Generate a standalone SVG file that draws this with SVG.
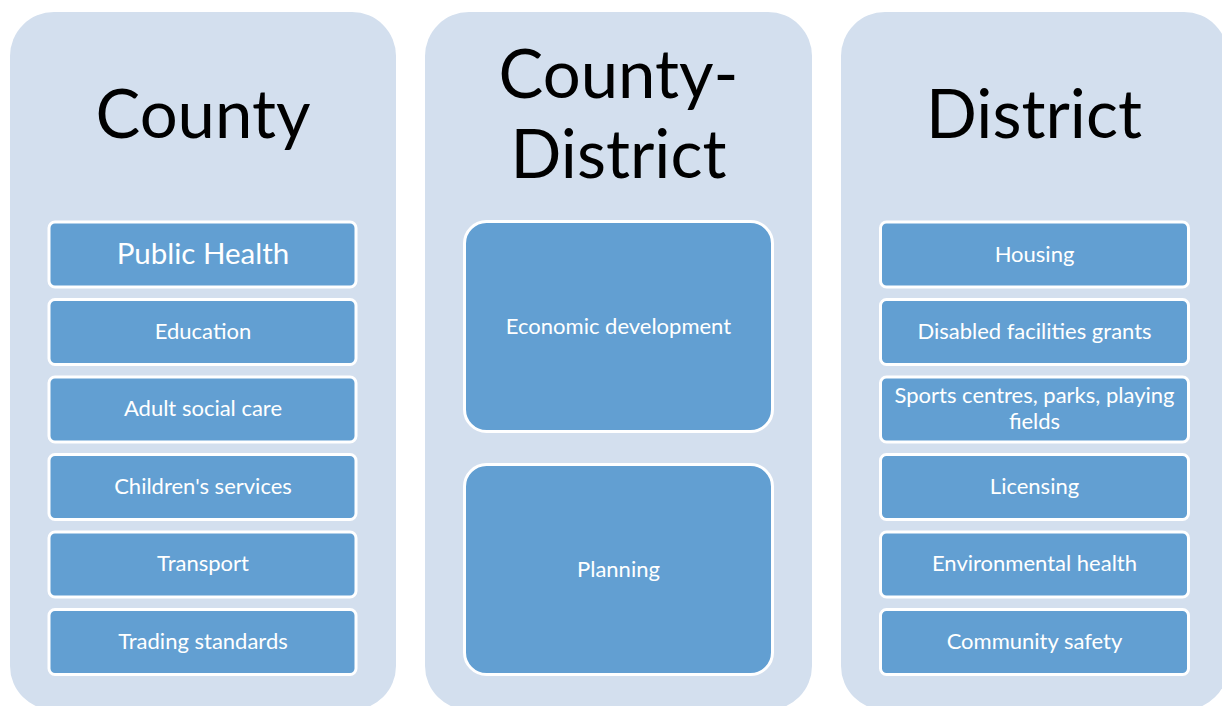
<svg xmlns="http://www.w3.org/2000/svg" width="1222" height="706" viewBox="0 0 1222 706">
<style>
.panel{fill:#D3DFEE}
.box{fill:#629FD2;stroke:#FFFFFF;stroke-width:3}
.h{font-family:Lato,"Open Sans","DejaVu Sans",sans-serif;font-size:67px;fill:#000;text-anchor:middle}
.t{font-family:Lato,"Open Sans","DejaVu Sans",sans-serif;font-size:22px;fill:#FFFFFF;text-anchor:middle}
.tl{font-family:Lato,"Open Sans","DejaVu Sans",sans-serif;font-size:29.5px;fill:#FFFFFF;text-anchor:middle}
</style>
<rect width="1222" height="706" fill="#FFFFFF"/>
<g id="county">
<rect class="panel" x="10" y="12" width="386" height="698" rx="44"/>
<text class="h" x="203" y="138">County</text>
</g>
<g id="county-public-health"><rect class="box" x="49" y="222" width="307" height="65" rx="6"/><text class="tl" x="203" y="264">Public Health</text></g>
<g id="county-education"><rect class="box" x="49" y="299.5" width="307" height="65" rx="6"/><text class="t" x="203" y="339">Education</text></g>
<g id="county-adult-social-care"><rect class="box" x="49" y="377" width="307" height="65" rx="6"/><text class="t" x="203" y="416">Adult social care</text></g>
<g id="county-childrens-services"><rect class="box" x="49" y="454.5" width="307" height="65" rx="6"/><text class="t" x="203" y="494">Children's services</text></g>
<g id="county-transport"><rect class="box" x="49" y="532" width="307" height="65" rx="6"/><text class="t" x="203" y="571">Transport</text></g>
<g id="county-trading-standards"><rect class="box" x="49" y="609.5" width="307" height="65" rx="6"/><text class="t" x="203" y="649">Trading standards</text></g>

<g id="county-district">
<rect class="panel" x="425" y="12" width="387" height="698" rx="44"/>
<text class="h" x="618.5" y="98">County-</text>
<text class="h" x="618.5" y="178">District</text>
</g>
<g id="cd-economic-development"><rect class="box" x="464.5" y="221.5" width="308" height="210" rx="22"/><text class="t" x="618.5" y="334">Economic development</text></g>
<g id="cd-planning"><rect class="box" x="464.5" y="464.5" width="308" height="210" rx="22"/><text class="t" x="618.5" y="577">Planning</text></g>

<g id="district">
<rect class="panel" x="841" y="12" width="387" height="698" rx="44"/>
<text class="h" x="1034" y="138">District</text>
</g>
<g id="district-housing"><rect class="box" x="880.5" y="222" width="308" height="65" rx="6"/><text class="t" x="1034.5" y="262">Housing</text></g>
<g id="district-disabled-facilities-grants"><rect class="box" x="880.5" y="299.5" width="308" height="65" rx="6"/><text class="t" x="1034.5" y="339">Disabled facilities grants</text></g>
<g id="district-sports-centres"><rect class="box" x="880.5" y="377" width="308" height="65" rx="6"/><text class="t" x="1034.5" y="403">Sports centres, parks, playing</text><text class="t" x="1034.5" y="429">fields</text></g>
<g id="district-licensing"><rect class="box" x="880.5" y="454.5" width="308" height="65" rx="6"/><text class="t" x="1034.5" y="494">Licensing</text></g>
<g id="district-environmental-health"><rect class="box" x="880.5" y="532" width="308" height="65" rx="6"/><text class="t" x="1034.5" y="571">Environmental health</text></g>
<g id="district-community-safety"><rect class="box" x="880.5" y="609.5" width="308" height="65" rx="6"/><text class="t" x="1034.5" y="649">Community safety</text></g>
<g id="connectors"/>
</svg>
